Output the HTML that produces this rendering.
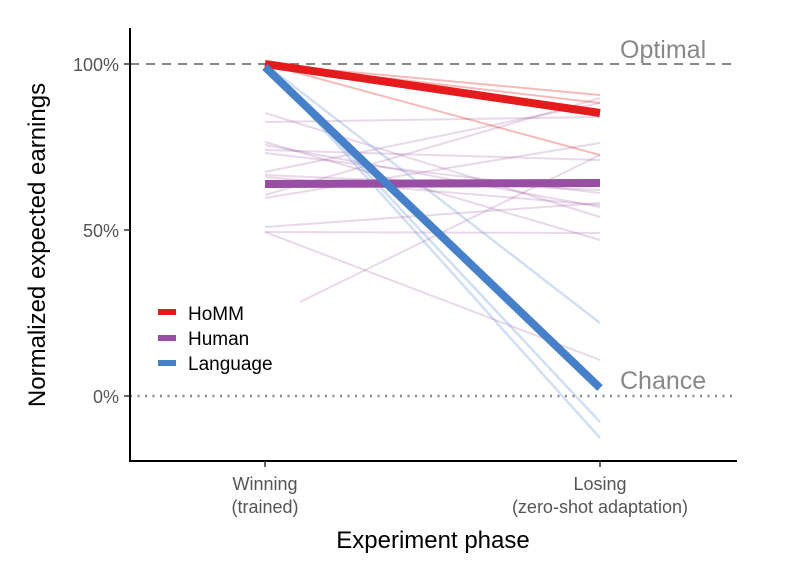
<!DOCTYPE html>
<html><head><style>body{margin:0;background:#fff}svg{display:block}text{font-family:"Liberation Sans",sans-serif}</style></head><body>
<svg width="810" height="570" viewBox="0 0 810 570" xmlns="http://www.w3.org/2000/svg">
<line x1="130" y1="64" x2="737" y2="64" stroke="#888" stroke-width="2" stroke-dasharray="9,7"/>
<line x1="130" y1="396" x2="737" y2="396" stroke="#888" stroke-width="2.5" stroke-dasharray="2,5.5"/>
<text x="620" y="58" font-size="25" fill="#888">Optimal</text>
<text x="620" y="389" font-size="25" fill="#888">Chance</text>
<g stroke="#9b4fa0" stroke-opacity="0.22" stroke-width="2" fill="none">
<line x1="265" y1="113" x2="600" y2="217"/>
<line x1="265" y1="122" x2="600" y2="117"/>
<line x1="265" y1="142" x2="600" y2="240"/>
<line x1="265" y1="145" x2="600" y2="207"/>
<line x1="265" y1="150" x2="600" y2="160"/>
<line x1="265" y1="153" x2="600" y2="193"/>
<line x1="265" y1="172" x2="600" y2="103"/>
<line x1="265" y1="175" x2="600" y2="190"/>
<line x1="265" y1="177" x2="600" y2="205"/>
<line x1="265" y1="195" x2="600" y2="98"/>
<line x1="265" y1="198" x2="600" y2="143"/>
<line x1="265" y1="227" x2="600" y2="203"/>
<line x1="265" y1="232" x2="600" y2="233"/>
<line x1="265" y1="232" x2="600" y2="360"/>
<line x1="300" y1="302" x2="600" y2="155"/>
</g>
<g stroke="#e41a1c" stroke-opacity="0.3" stroke-width="2">
<line x1="265" y1="64" x2="600" y2="95"/>
<line x1="265" y1="64" x2="600" y2="103"/>
<line x1="265" y1="64" x2="600" y2="155"/>
</g>
<g stroke="#4a7fca" stroke-opacity="0.25" stroke-width="2.5">
<line x1="265" y1="64" x2="600" y2="323"/>
<line x1="265" y1="64" x2="600" y2="422"/>
<line x1="265" y1="64" x2="600" y2="438"/>
</g>
<line x1="265" y1="184" x2="600" y2="183" stroke="#984ea3" stroke-width="8"/>
<line x1="265" y1="64" x2="600" y2="113" stroke="#e41a1c" stroke-width="8"/>
<line x1="265" y1="67" x2="600" y2="388" stroke="#4680c8" stroke-width="8"/>
<line x1="130" y1="28" x2="130" y2="462" stroke="#000" stroke-width="2"/>
<line x1="129" y1="461" x2="737" y2="461" stroke="#000" stroke-width="2"/>
<g stroke="#333" stroke-width="1.5"><line x1="124" y1="64" x2="130" y2="64"/><line x1="124" y1="230" x2="130" y2="230"/><line x1="124" y1="396" x2="130" y2="396"/><line x1="265" y1="461" x2="265" y2="467"/><line x1="600" y1="461" x2="600" y2="467"/></g>
<g font-size="18" fill="#555" text-anchor="end"><text x="119" y="71">100%</text><text x="119" y="237">50%</text><text x="119" y="403">0%</text></g>
<g font-size="18" fill="#555" text-anchor="middle"><text x="265" y="490">Winning</text><text x="265" y="513">(trained)</text><text x="600" y="490">Losing</text><text x="600" y="513">(zero-shot adaptation)</text></g>
<text x="433" y="548" font-size="24" text-anchor="middle" fill="#000">Experiment phase</text>
<text transform="translate(45,245) rotate(-90)" font-size="24" text-anchor="middle" fill="#000">Normalized expected earnings</text>
<rect x="158" y="309" width="18" height="6" fill="#e41a1c"/><text x="188" y="320" font-size="19">HoMM</text>
<rect x="158" y="335" width="18" height="6" fill="#984ea3"/><text x="188" y="345" font-size="19">Human</text>
<rect x="158" y="360" width="18" height="6" fill="#4680c8"/><text x="188" y="370" font-size="19">Language</text>
</svg>
</body></html>
